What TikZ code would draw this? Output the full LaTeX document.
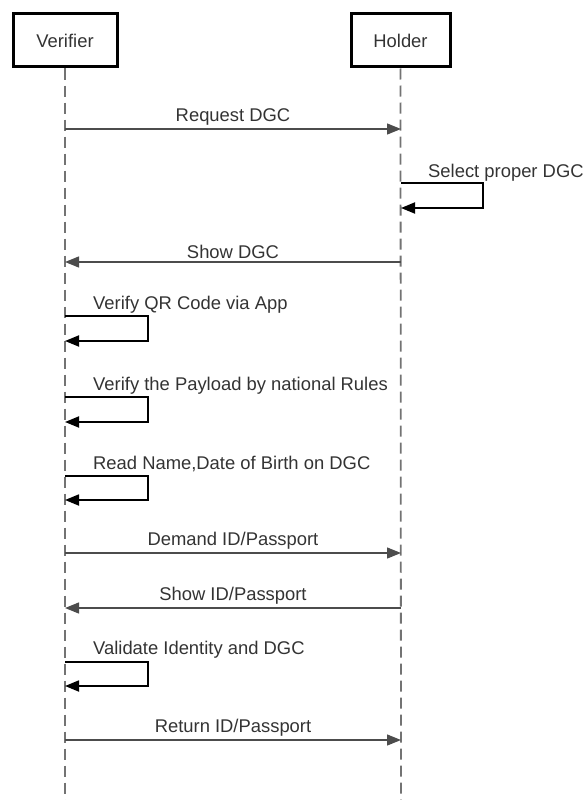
\documentclass[tikz,border=0pt]{standalone}
\usepackage{fontspec}
\setmainfont{Liberation Sans}
\usetikzlibrary{arrows.meta}
\tikzset{
  actor/.style = {draw, line width=3pt, minimum width=104pt, minimum height=53pt, inner sep=0pt},
  lifeline/.style = {draw=black!55, line width=1.8pt, dash pattern=on 11pt off 6pt},
  msg/.style = {draw=black!70, line width=1.3pt, -{Triangle[length=14pt,width=11pt]}},
  selfmsg/.style = {draw=black, line width=1.8pt, -{Triangle[length=14pt,width=11pt]}},
  lbl/.style = {text=black!80, font=\fontsize{18.4}{21}\selectfont, inner sep=0pt}
}
\begin{document}
\begin{tikzpicture}[x=1pt,y=-1pt]
\useasboundingbox (0,0) rectangle (586,800);
\node at (65,40.5) [actor, lbl](V){Verifier};
\node at (400.5,40.5) [actor, lbl, minimum width=99pt](H){Holder};
\coordinate (Vend) at (65,800);
\coordinate (Hend) at (401,800);
\draw [lifeline] (V.south) -- (Vend);
\draw [lifeline] (H.south) -- (Hend);
% messages
\coordinate (v1) at (65,129);
\coordinate (h1) at (401,129);
\draw [msg] (v1) -- (h1) node [midway, above=3pt, lbl](m1){Request DGC};
\coordinate (h2a) at (401,183);
\coordinate (h2b) at (401,208);
\draw [selfmsg] (h2a) -- (483,183) -- (483,208) -- (h2b);
\node at (428,173) [anchor=west, lbl](m2){Select proper DGC};
\coordinate (v3) at (65,262);
\coordinate (h3) at (401,262);
\draw [msg] (h3) -- (v3) node [midway, above=3pt, lbl](m3){Show DGC};
\coordinate (v4a) at (65,316);
\coordinate (v4b) at (65,341);
\draw [selfmsg] (v4a) -- (148,316) -- (148,341) -- (v4b);
\node at (93,305) [anchor=west, lbl](m4){Verify QR Code via App};
\coordinate (v5a) at (65,397);
\coordinate (v5b) at (65,422);
\draw [selfmsg] (v5a) -- (148,397) -- (148,422) -- (v5b);
\node at (93,386) [anchor=west, lbl](m5){Verify the Payload by national Rules};
\coordinate (v6a) at (65,476);
\coordinate (v6b) at (65,500);
\draw [selfmsg] (v6a) -- (148,476) -- (148,500) -- (v6b);
\node at (93,464) [anchor=west, lbl](m6){Read Name,Date of Birth on DGC};
\coordinate (v7) at (65,553);
\coordinate (h7) at (401,553);
\draw [msg] (v7) -- (h7) node [midway, above=3pt, lbl](m7){Demand ID/Passport};
\coordinate (v8) at (65,608);
\coordinate (h8) at (401,608);
\draw [msg] (h8) -- (v8) node [midway, above=3pt, lbl](m8){Show ID/Passport};
\coordinate (v9a) at (65,662);
\coordinate (v9b) at (65,686);
\draw [selfmsg] (v9a) -- (148,662) -- (148,686) -- (v9b);
\node at (93,650) [anchor=west, lbl](m9){Validate Identity and DGC};
\coordinate (v10) at (65,740);
\coordinate (h10) at (401,740);
\draw [msg] (v10) -- (h10) node [midway, above=3pt, lbl](m10){Return ID/Passport};
\end{tikzpicture}
\end{document}
